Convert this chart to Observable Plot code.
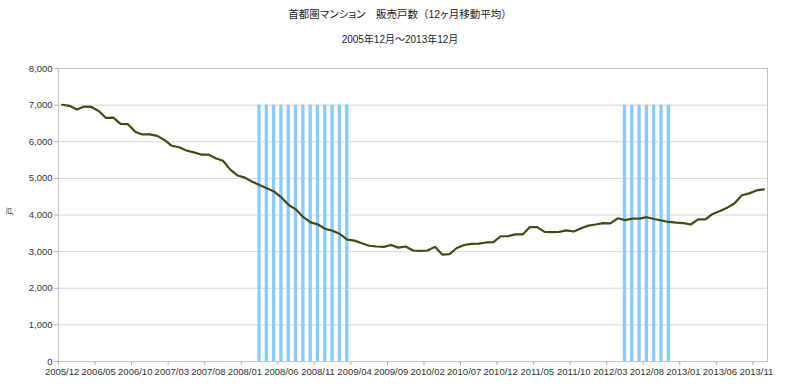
<!DOCTYPE html>
<html><head><meta charset="utf-8">
<script src="https://cdn.jsdelivr.net/npm/d3@7"></script>
<script src="https://cdn.jsdelivr.net/npm/@observablehq/plot@0.6"></script>
<style>
body{margin:0;background:#fff;font-family:"Liberation Sans","Noto Sans CJK JP",sans-serif;}
#title{width:800px;height:28px;line-height:28px;text-align:center;font-size:10.5px;color:#222;font-feature-settings:"palt"}
#title .fw{font-feature-settings:normal}
#subtitle{width:800px;height:24px;line-height:24px;text-align:center;font-size:10px;color:#222}
#chart svg{display:block}
</style></head><body>
<div id="title">首都圏マンション　販売戸数<span class="fw">（</span>12ヶ月移動平均<span class="fw">）</span></div>
<div id="subtitle">2005年12月～2013年12月</div>
<div id="chart"></div>
<script>
const startYear = 2005, startMonth = 12, monthCount = 97;
const months = [];
for (let i = 0; i < monthCount; i++) {
  const m = (startMonth - 1 + i) % 12 + 1;
  const y = startYear + Math.floor((startMonth - 1 + i) / 12);
  months.push(`${y}/${String(m).padStart(2, "0")}`);
}
const sales = [
  7010, 6980, 6880, 6960, 6950, 6840, 6650, 6660, 6490, 6480,
  6270, 6200, 6200, 6160, 6050, 5890, 5850, 5760, 5710, 5650,
  5650, 5550, 5480, 5240, 5080, 5020, 4910, 4820, 4730, 4640,
  4480, 4270, 4150, 3940, 3800, 3740, 3620, 3570, 3480, 3330,
  3300, 3230, 3160, 3140, 3130, 3180, 3110, 3140, 3030, 3020,
  3030, 3130, 2920, 2930, 3100, 3180, 3210, 3220, 3250, 3260,
  3420, 3420, 3470, 3470, 3670, 3670, 3540, 3530, 3540, 3580,
  3550, 3640, 3710, 3740, 3780, 3770, 3910, 3860, 3900, 3900,
  3940, 3890, 3850, 3810, 3790, 3780, 3740, 3880, 3880, 4030,
  4110, 4200, 4320, 4540, 4590, 4670, 4700
];
const recessionMonths = [
  "2008/03", "2008/04", "2008/05", "2008/06", "2008/07", "2008/08", "2008/09",
  "2008/10", "2008/11", "2008/12", "2009/01", "2009/02", "2009/03",
  "2012/05", "2012/06", "2012/07", "2012/08", "2012/09", "2012/10", "2012/11"
];
const recessionLevel = 7000;
const tickLabels = [
  "2005/12", "2006/05", "2006/10", "2007/03", "2007/08", "2008/01", "2008/06",
  "2008/11", "2009/04", "2009/09", "2010/02", "2010/07", "2010/12", "2011/05",
  "2011/10", "2012/03", "2012/08", "2013/01", "2013/06", "2013/11"
];
const yTicks = [0, 1000, 2000, 3000, 4000, 5000, 6000, 7000, 8000];
const yLabel = "戸";

const W = 800, H = 339, mL = 58, mR = 33;
const bw = (W - mL - mR) / monthCount;
const lineData = sales.map((v, i) => ({month: months[i], value: v}));
const narrow = "'Liberation Sans Narrow', 'Liberation Sans', sans-serif";

const chart = Plot.plot({
  width: W, height: H,
  marginTop: 16, marginBottom: 30, marginLeft: mL, marginRight: mR,
  style: {fontFamily: "'Liberation Sans', 'Noto Sans CJK JP', sans-serif", fontSize: "10px", color: "#333", background: "#fff"},
  x: {type: "band", domain: months, padding: 0, round: false, label: null},
  y: {domain: [0, 8000], label: null},
  marks: [
    Plot.gridY(yTicks, {stroke: "#d6d6d6", strokeOpacity: 1}),
    Plot.barY(recessionMonths, {x: d => d, y: () => recessionLevel, fill: "#8ccbff", insetLeft: 2, insetRight: 2}),
    Plot.line(lineData, {x: "month", y: "value", stroke: "#3e4c16", strokeWidth: 2.2}),
    Plot.frame({stroke: "#c4c4c4"}),
    Plot.axisY({ticks: yTicks, tickFormat: d3.format(","), tickSize: 4, tickPadding: 2, stroke: "#b0b0b0", label: null, fontFamily: narrow, fontSize: 9.5}),
    Plot.text([yLabel], {frameAnchor: "left", dx: -48, rotate: -90, fontSize: 8, fill: "#333", fontFamily: "'Noto Sans CJK JP', sans-serif"}),
    Plot.axisX({ticks: tickLabels, tickSize: 0, tickPadding: 7, label: null, fontFamily: narrow, fontSize: 9.5}),
    Plot.axisX({ticks: tickLabels, tickSize: 4, tickFormat: () => "", dx: -bw / 2, stroke: "#b0b0b0", label: null})
  ]
});
document.getElementById("chart").appendChild(chart);
</script>
</body></html>
